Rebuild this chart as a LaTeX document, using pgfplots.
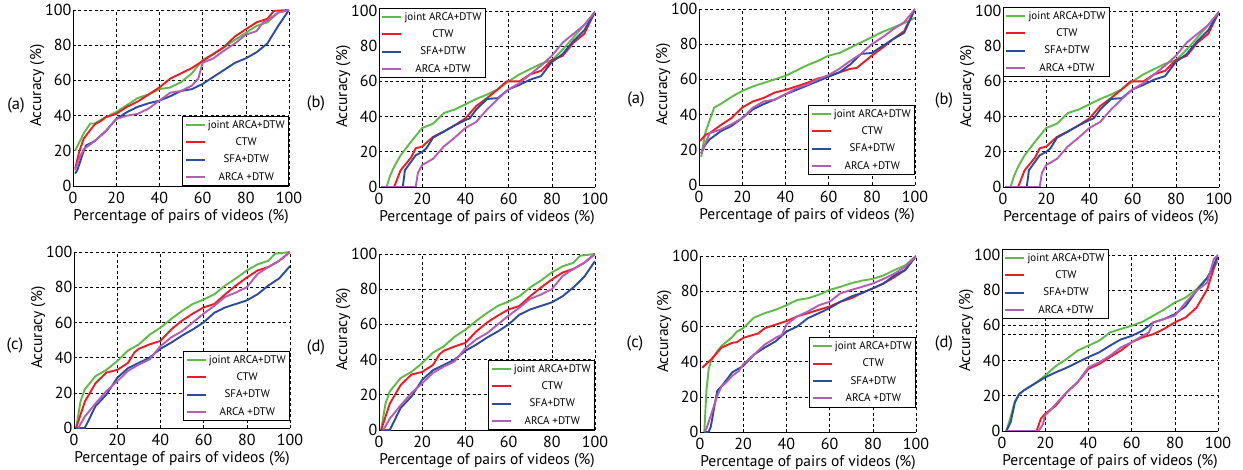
\documentclass[border=0pt]{standalone}
\usepackage{fontspec}
\setmainfont{PT Sans}
\usepackage{pgfplots}
\usepackage{pgfplotstable}
\pgfplotsset{compat=1.18}

\definecolor{cjoint}{HTML}{5DBB46}
\definecolor{cctw}{HTML}{ED1C24}
\definecolor{csfa}{HTML}{2B4BA0}
\definecolor{carca}{HTML}{B55CB5}

% ---- (a) left
\pgfplotstableread{
x y
1 20
3 25
5 30
8 35.5
10 35.5
15 39
20 42
25 46
30 50
35 52
40 55
45 56
50 59
55 64
60 71.6
65 75
70 79
75 83
80 87
85 91
90 93
95 98.5
100 100
}\aAg
\pgfplotstableread{
x y
1 10
3 20
5 27
10 35
13 37
15 39
20 41
25 45
30 48
35 52
40 56
45 61
50 64
55 67
60 71
65 75
70 79
75 85
80 89
85 93
90 95
93 99.5
100 100
}\aAr
\pgfplotstableread{
x y
1 7
2 9
5 20
6 23
10 25.5
15 31
20 38
25 42
30 45
35 47
40 48.5
45 51
50 54
55 55
60 58
65 62
70 66
75 70
80 72.5
85 76
90 81
95 91
100 100
}\aAb
\pgfplotstableread{
x y
1 9
3 16
5 21
10 25.5
15 31
20 38
25 40
30 41
35 44
40 48.5
45 53
50 54
55 57
58 61
60 70
65 72.5
70 77
75 81
80 86
85 88
88 93
90 94
95 98.5
100 100
}\aAm
% ---- (b)
\pgfplotstableread{
x y
1 0
3.5 0
5 6
7 11.5
10 18
15 26
20 33.5
25 36
30 42
35 44
40 47
45 50
50 52.5
55 55.5
60 60
65 64
70 67
75 70
80 72
85 78
90 85
95 92
100 99.5
}\bBg
\pgfplotstableread{
x y
1 0
7 0
10 9.5
12 12.5
15 17
17 22
20 23
25 28.5
30 31.5
35 35
40 39
45 46
50 50.5
55 55.5
59 60
65 60
70 64
75 66
80 72
85 74.5
90 82
95 87
100 99.5
}\bBr
\pgfplotstableread{
x y
1 0
11 0
12 9.5
14 13
17 18
20 20
22 22
25 28
30 31.5
35 35
40 38
42 39
45 44
50 50
55 50.5
60 55.5
65 58
70 61
75 63
80 71
85 75.5
90 83
95 89
100 99.5
}\bBb
\pgfplotstableread{
x y
1 0
17 0
18 8
20 12.5
25 16
30 23
35 28
40 33.5
45 37
50 44
55 50
60 55.5
65 59
70 64
75 69
80 74.5
85 82
90 87
95 92
100 99.5
}\bBm
% ---- (a) right
\pgfplotstableread{
x y
1 16
3 30
5 37
7 44
10 46
15 50
20 53.5
25 56
30 58
35 60
40 62
45 65
50 68
55 70.5
60 73.5
65 75
70 78
75 81
80 84
85 87
90 89.5
95 92
100 95
}\cAg
\pgfplotstableread{
x y
0.5 25
3 28.5
5 29.5
10 34
15 38
20 44
25 47.5
30 49.5
35 52.5
40 54
45 56
50 58
55 60.5
60 62
65 64
70 66
73 66.5
75 68.5
80 73.5
85 78
90 83
95 87.5
100 100
}\cAr
\pgfplotstableread{
x y
1 18
3 23
5 26
10 30.5
15 33.5
20 38
25 43
30 46
35 48.5
40 51.5
45 54
50 56.5
55 59
60 61.5
65 64
70 68.5
75 74.5
80 75
85 79
90 83
95 86.5
100 100
}\cAb
\pgfplotstableread{
x y
1 18
5 29.5
10 31.5
15 34.5
20 38
25 44
30 47.5
35 48.5
40 51.5
45 55
50 57
55 60
60 62.5
65 66
70 70.5
75 74.5
80 80
85 84
90 88.5
95 92.5
100 100
}\cAm
% ---- (c) left
\pgfplotstableread{
x y
1 0
3 15
5 22
10 29.5
15 33
20 38
25 44
30 47.5
35 53
40 57
45 62
50 66.5
55 70.5
60 73
65 76
70 81
75 85
80 89.5
85 93
90 95
93 99
100 100
}\dCg
\pgfplotstableread{
x y
1 0
5 15
10 25.5
15 31.5
20 33
25 37
28 43
30 45
35 47.5
40 49.5
45 56
50 61
55 65
60 68.5
65 70.5
70 76
75 81
80 85.5
85 89.5
90 91.5
95 95
100 100
}\dCr
\pgfplotstableread{
x y
1 0
5 0
7 5
10 12.5
15 19
20 28.5
25 34
30 37
35 40
40 45
45 48.5
50 52.5
55 56
60 60
65 65.5
70 68.5
75 70.5
80 72.5
85 76
90 81
95 85
100 92
}\dCb
\pgfplotstableread{
x y
1 0
5 0
7 5
10 12.5
15 19
20 28.5
25 34
30 37
35 40
40 45
45 48.5
50 52.5
55 56
60 60
65 65.5
70 68.5
75 70.5
80 72.5
85 76
90 81
95 87
100 96
}\dDb
\pgfplotstableread{
x y
2 0
5 6.5
10 14
15 21
20 26.5
25 32.5
30 36
35 39
40 46.5
45 51.5
50 55
55 60
60 65
65 69.5
70 74.5
75 77
80 80
85 87.5
90 91.5
95 95
100 100
}\dCm
% ---- (c) right
\pgfplotstableread{
x y
2 0
3 24
4 35.6
5 40
8 46
10 49
15 54
17 57
20 59
25 65
30 67.5
35 69.5
40 72
45 75
50 76
55 78
60 80.7
65 82.5
70 84.5
75 86
80 87
85 89
90 92
95 94.7
100 100
}\eCg
\pgfplotstableread{
x y
1 36.5
5 41
10 48
15 50.7
17 51
20 53.5
25 55.3
27 56
30 59
35 61
40 63
45 65.7
50 67.5
55 69.5
60 71.3
65 74
70 76
75 79
80 81.6
85 84.4
90 88
95 92
100 100
}\eCr
\pgfplotstableread{
x y
2 0
4 0
5 3
6 10
8 23.5
10 26
15 34
20 37.5
25 44
30 48
35 51.5
40 57
45 60
50 64.7
55 67.5
60 70.4
65 74
70 77
75 79
80 81.6
85 84.4
90 89
95 92
100 100
}\eCb
\pgfplotstableread{
x y
2 0
3 2
5 9.4
8 20.6
10 26
12 28
15 32
18 34.7
20 38.5
25 44
30 49.7
35 53.5
38 55.3
40 61
45 65.7
50 68.5
55 72
60 74
65 78.8
70 80.7
75 82.5
80 84.4
85 87
90 90
95 93.8
100 100
}\eCm
% ---- (d) right
\pgfplotstableread{
x y
2 0
4 8
5 12.6
6 17
8 21
10 23
15 26.8
20 31.5
25 37
30 41
35 45.7
40 48.5
45 51.3
50 56
55 58
60 59.8
65 62
70 65.5
75 69
80 73
85 75.8
90 80.5
95 87
100 96.6
}\fDg
\pgfplotstableread{
x y
2 0
16 0
18 7
20 9.8
25 14.5
30 22
35 27.7
40 35.3
45 38
50 42
55 45.7
60 50.4
65 53.2
70 55
75 58
80 61.7
85 64.5
90 70
95 80.5
100 100
}\fDr
\pgfplotstableread{
x y
2 0
4 5
6 16.4
8 21
10 23
15 26.8
20 30.5
25 33.4
30 36
35 39
40 42
45 44.7
50 48.5
55 52
60 54
65 57
70 61.7
75 63.6
80 66.4
85 71
90 79.6
95 87
98 93.8
100 100
}\fDb
\pgfplotstableread{
x y
2 0
17 0
19 4
20 8.9
23 12.6
25 15.5
30 22
35 27.7
40 36.2
45 39
50 42.8
55 47.5
60 50.4
65 54
68 56
70 61.7
75 63.6
80 65.5
85 73
90 79.6
95 84.3
98 97.5
100 100
}\fDm

\pgfplotsset{
  panel/.style={
    scale only axis, width=216pt, height=176pt,
    xmin=0, xmax=100, ymin=0, ymax=100,
    xtick={0,20,...,100}, ytick={0,20,...,100},
    axis x line*=bottom, axis y line*=left,
    axis line style={line width=0.8pt, -},
    major tick length=0pt,
    grid=major,
    grid style={black, line width=0.6pt, dash pattern=on 3pt off 2.5pt},
    /pgf/number format/assume math mode=true,
    tick label style={font=\fontsize{16}{18}\selectfont},
    yticklabel style={inner xsep=1.5pt},
    xticklabel style={inner ysep=5.5pt},
    xlabel={Percentage of pairs of videos (\%)},
    ylabel={Accuracy (\%)},
    label style={font=\fontsize{15.5}{18}\selectfont},
    xlabel style={at={(axis description cs:0.5,-0.176)}, anchor=center},
    ylabel style={at={(axis description cs:-0.165,0.57)}, anchor=center},
    legend cell align=center,
    legend style={font=\fontsize{11}{13}\selectfont, draw=black, line width=0.7pt,
      fill=white, inner xsep=2pt, inner ysep=2pt, row sep=4pt},
    legend image code/.code={\draw[#1, line width=2.2pt] (0pt,0pt) -- (19pt,0pt);},
    every axis plot/.append style={line width=1.9pt, mark=none},
  },
  se/.style={legend style={at={(1,#1)}, anchor=south east}},
  nw/.style={legend style={at={(0,#1)}, anchor=north west}},
}

\newcommand{\fourplots}[4]{%
  \addplot[cjoint] table {#1};
  \addplot[cctw] table {#2};
  \addplot[csfa] table {#3};
  \addplot[carca] table {#4};
  \legend{joint ARCA+DTW, CTW, SFA+DTW, ARCA +DTW}
}

\begin{document}
\begin{tikzpicture}
\useasboundingbox (0pt,0pt) rectangle (1243pt,-470pt);

\begin{axis}[panel, se=0, at={(73pt,-186pt)}, anchor=south west]
\fourplots{\aAg}{\aAr}{\aAb}{\aAm}
\end{axis}
\begin{axis}[panel, nw=1.017, at={(379pt,-187pt)}, anchor=south west]
\fourplots{\bBg}{\bBr}{\bBb}{\bBm}
\end{axis}
\begin{axis}[panel, se=0.057, at={(699pt,-185pt)}, anchor=south west]
\fourplots{\cAg}{\cAr}{\cAb}{\cAm}
\end{axis}
\begin{axis}[panel, nw=1.023, at={(1003pt,-187pt)}, anchor=south west]
\fourplots{\bBg}{\bBr}{\bBb}{\bBm}
\end{axis}

\begin{axis}[panel, se=0.04, at={(74pt,-428pt)}, anchor=south west]
\fourplots{\dCg}{\dCr}{\dCb}{\dCm}
\end{axis}
\begin{axis}[panel, se=0, at={(379pt,-430pt)}, anchor=south west]
\fourplots{\dCg}{\dCr}{\dDb}{\dCm}
\end{axis}
\begin{axis}[panel, se=0.14, at={(700pt,-432pt)}, anchor=south west]
\fourplots{\eCg}{\eCr}{\eCb}{\eCm}
\end{axis}
\begin{axis}[panel, nw=1.034, at={(1002pt,-431pt)}, anchor=south west,
  extra y ticks={55}, extra y tick labels={}, extra y tick style={grid=major}]
\fourplots{\fDg}{\fDr}{\fDb}{\fDm}
\end{axis}

\begin{scope}[every node/.style={font=\fontsize{16.5}{19}\selectfont}]
\node at (16pt,-105pt) {(a)};
\node at (316pt,-103pt) {(b)};
\node at (636pt,-99pt) {(a)};
\node at (944pt,-100pt) {(b)};
\node at (15pt,-345pt) {(c)};
\node at (316pt,-347pt) {(d)};
\node at (635pt,-343pt) {(c)};
\node at (944pt,-343pt) {(d)};
\end{scope}
\end{tikzpicture}
\end{document}
